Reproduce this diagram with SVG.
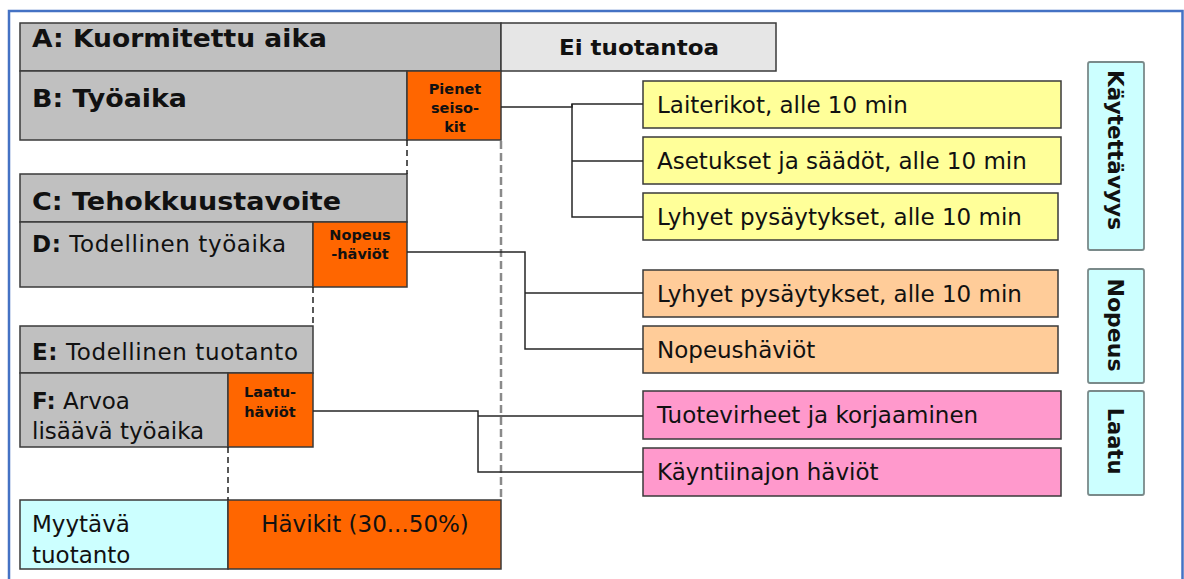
<svg xmlns="http://www.w3.org/2000/svg" width="1184" height="579" viewBox="0 0 1184 579">
  <style>
    .box { stroke: #3a3a3a; stroke-width: 1.5; }
    .tag { stroke: #7a8a8a; stroke-width: 1.8; fill: #CCFFFF; }
    .gray { fill: #C0C0C0; }
    .light { fill: #E6E6E6; }
    .orange { fill: #FF6600; }
    .yellow { fill: #FFFF99; }
    .peach { fill: #FFCC99; }
    .pink { fill: #FF99CC; }
    .cyan { fill: #CCFFFF; }
    text { font-family: "DejaVu Sans", Verdana, sans-serif; fill: #111; }
    .hb { font-weight: bold; font-size: 24px; }
    .b { font-weight: bold; }
    .sm { font-weight: bold; font-size: 14.5px; text-anchor: middle; }
    .lt { font-size: 23px; }
    .rt { font-size: 23px; }
    .vt { font-weight: bold; font-size: 21px; text-anchor: middle; }
    .conn { fill: none; stroke: #262626; stroke-width: 1.5; }
    .guide { fill: none; stroke: #222; stroke-width: 1.5; stroke-dasharray: 6 4; }
    .guide2 { fill: none; stroke: #8a8a8a; stroke-width: 2.5; stroke-dasharray: 8 4; }
  </style>

  <!-- outer frame -->
  <path d="M9,579 V11 H1182.5 V579" fill="none" stroke="#4472C4" stroke-width="2.5"/>

  <!-- time breakdown bars -->
  <g id="node-a">
    <rect class="box gray" x="20" y="23" width="481" height="48"/>
    <text class="hb" x="32" y="47" textLength="295" lengthAdjust="spacingAndGlyphs">A: Kuormitettu aika</text>
  </g>
  <g id="node-ei-tuotantoa">
    <rect class="box light" x="501" y="23" width="275" height="48"/>
    <text class="b" x="639" y="55" font-size="21" text-anchor="middle" textLength="160" lengthAdjust="spacingAndGlyphs">Ei tuotantoa</text>
  </g>
  <g id="node-b">
    <rect class="box gray" x="20" y="71" width="387" height="69"/>
    <text class="hb" x="32" y="107" textLength="155" lengthAdjust="spacingAndGlyphs">B: Työaika</text>
  </g>
  <g id="node-pienet-seisokit">
    <rect class="box orange" x="407" y="71" width="94" height="69"/>
    <text class="sm" x="455" y="94">Pienet</text>
    <text class="sm" x="455" y="113">seiso-</text>
    <text class="sm" x="455" y="132">kit</text>
  </g>
  <g id="node-c">
    <rect class="box gray" x="20" y="174" width="387" height="48"/>
    <text class="hb" x="32" y="210" textLength="309" lengthAdjust="spacingAndGlyphs">C: Tehokkuustavoite</text>
  </g>
  <g id="node-d">
    <rect class="box gray" x="20" y="222" width="293" height="65"/>
    <text class="lt" x="32" y="252" textLength="254"><tspan class="b">D:</tspan> Todellinen työaika</text>
  </g>
  <g id="node-nopeushaviot">
    <rect class="box orange" x="313" y="222" width="94" height="65"/>
    <text class="sm" x="360" y="240">Nopeus</text>
    <text class="sm" x="360" y="259">-häviöt</text>
  </g>
  <g id="node-e">
    <rect class="box gray" x="20" y="326" width="293" height="47"/>
    <text class="lt" x="32" y="360" textLength="266"><tspan class="b">E:</tspan> Todellinen tuotanto</text>
  </g>
  <g id="node-f">
    <rect class="box gray" x="20" y="373" width="208" height="74"/>
    <text class="lt" x="32" y="409"><tspan class="b">F:</tspan> Arvoa</text>
    <text class="lt" x="32" y="439">lisäävä työaika</text>
  </g>
  <g id="node-laatuhaviot">
    <rect class="box orange" x="228" y="373" width="85" height="74"/>
    <text class="sm" x="270" y="397">Laatu-</text>
    <text class="sm" x="270" y="417">häviöt</text>
  </g>
  <g id="node-myytava">
    <rect class="box cyan" x="20" y="500" width="208" height="69"/>
    <text class="lt" x="32" y="532">Myytävä</text>
    <text class="lt" x="32" y="563">tuotanto</text>
  </g>
  <g id="node-havikit">
    <rect class="box orange" x="228" y="500" width="273" height="69"/>
    <text class="lt" x="365" y="532" font-size="24" text-anchor="middle">Hävikit (30...50%)</text>
  </g>

  <!-- loss causes -->
  <g id="node-laiterikot">
    <rect class="box yellow" x="643" y="81" width="418" height="47"/>
    <text class="rt" x="657" y="113">Laiterikot, alle 10 min</text>
  </g>
  <g id="node-asetukset">
    <rect class="box yellow" x="643" y="137" width="418" height="47"/>
    <text class="rt" x="657" y="169">Asetukset ja säädöt, alle 10 min</text>
  </g>
  <g id="node-lyhyet-1">
    <rect class="box yellow" x="643" y="193" width="415" height="47"/>
    <text class="rt" x="657" y="225">Lyhyet pysäytykset, alle 10 min</text>
  </g>
  <g id="node-lyhyet-2">
    <rect class="box peach" x="643" y="270" width="415" height="47"/>
    <text class="rt" x="657" y="302">Lyhyet pysäytykset, alle 10 min</text>
  </g>
  <g id="node-nopeus-item">
    <rect class="box peach" x="643" y="326" width="415" height="47"/>
    <text class="rt" x="657" y="358">Nopeushäviöt</text>
  </g>
  <g id="node-tuotevirheet">
    <rect class="box pink" x="643" y="391" width="418" height="48"/>
    <text class="rt" x="657" y="423">Tuotevirheet ja korjaaminen</text>
  </g>
  <g id="node-kayntiinajo">
    <rect class="box pink" x="643" y="448" width="418" height="48"/>
    <text class="rt" x="657" y="480">Käyntiinajon häviöt</text>
  </g>

  <!-- category tags -->
  <g id="tag-kaytettavyys">
    <rect class="tag" x="1088" y="62" width="56" height="188" rx="2"/>
    <text class="vt" transform="translate(1108,150) rotate(90)" textLength="160" lengthAdjust="spacingAndGlyphs">Käytettävyys</text>
  </g>
  <g id="tag-nopeus">
    <rect class="tag" x="1088" y="269" width="56" height="114" rx="2"/>
    <text class="vt" transform="translate(1108,325) rotate(90)" textLength="93" lengthAdjust="spacingAndGlyphs">Nopeus</text>
  </g>
  <g id="tag-laatu">
    <rect class="tag" x="1088" y="391" width="56" height="104" rx="2"/>
    <text class="vt" transform="translate(1108,441) rotate(90)">Laatu</text>
  </g>

  <!-- guide lines and connectors -->
  <g id="connectors">
    <path class="guide" d="M407,140 V174"/>
    <path class="guide" d="M313,287 V326"/>
    <path class="guide" d="M228,447 V500"/>
    <path class="guide2" d="M501,141 V497"/>
    <path class="conn" d="M501,107 H572 V104 H643"/>
    <path class="conn" d="M572,104 V217 H643"/>
    <path class="conn" d="M572,161 H643"/>
    <path class="conn" d="M407,252 H525 V349 H643"/>
    <path class="conn" d="M525,293 H643"/>
    <path class="conn" d="M313,411 H478 V472 H643"/>
    <path class="conn" d="M478,416 H643"/>
  </g>
</svg>
